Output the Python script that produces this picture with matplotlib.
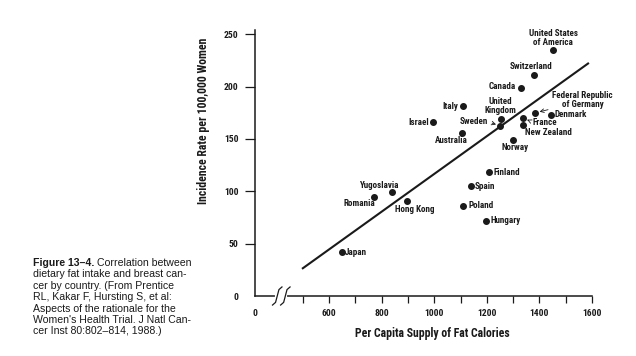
import matplotlib
matplotlib.use('Agg')
import matplotlib.pyplot as plt

# values
countries = ['United States\nof America', 'Switzerland', 'Canada', 'Italy',
             'United\nKingdom', 'Federal Republic\nof Germany', 'Denmark', 'France',
             'New Zealand', 'Israel', 'Sweden', 'Australia', 'Norway', 'Finland',
             'Spain', 'Yugoslavia', 'Romania', 'Hong Kong', 'Poland', 'Hungary', 'Japan']
fat_calories = [1453, 1381, 1329, 1110, 1253, 1385, 1443, 1339, 1337, 994, 1250,
                1107, 1301, 1210, 1140, 838, 770, 895, 1110, 1196, 650]
incidence = [235, 211, 199, 181, 169, 175, 173, 170, 163.5, 166, 162.5,
             156, 148.5, 118, 105, 99, 95, 91, 86, 72, 42]

fit_x = [500, 1585]
fit_y = [26.5, 222]

x_ticks = [318, 600, 800, 1000, 1200, 1400, 1600]
x_labels = ['0', '600', '800', '1000', '1200', '1400', '1600']
x_minor = [500, 700, 900, 1100, 1300, 1500]
y_ticks = [0, 50, 100, 150, 200, 250]

# label placement: (dx, dy) in pixels, ha, va, arrow relpos
label_style = {
    'United States\nof America': (0, 12, 'center', 'center', None),
    'Switzerland': (-3, 9, 'center', 'center', None),
    'Canada': (-5, 1, 'right', 'center', None),
    'Italy': (-5, 0, 'right', 'center', None),
    'United\nKingdom': (0, 13, 'center', 'center', None),
    'Federal Republic\nof Germany': (47, 13, 'center', 'center', (0.12, 0.1)),
    'Denmark': (4, 0, 'left', 'center', None),
    'France': (9, -5, 'left', 'center', (0, 0.6)),
    'New Zealand': (2, -8, 'left', 'center', None),
    'Israel': (-4, 0, 'right', 'center', None),
    'Sweden': (-12, 4, 'right', 'center', (1, 0.5)),
    'Australia': (-11, -8, 'center', 'center', None),
    'Norway': (2, -7, 'center', 'center', None),
    'Finland': (4, 0, 'left', 'center', None),
    'Spain': (4, 0, 'left', 'center', None),
    'Yugoslavia': (-12, 7, 'center', 'center', None),
    'Romania': (-14, -7, 'center', 'center', None),
    'Hong Kong': (8, -9, 'center', 'center', None),
    'Poland': (5, 0, 'left', 'center', None),
    'Hungary': (5, 0, 'left', 'center', None),
    'Japan': (3, 0, 'left', 'center', None),
}

narrow = ['Roboto Condensed', 'DejaVu Sans']
ink = '#1a1a1a'

fig = plt.figure(figsize=(6.36, 3.56), dpi=100)
ax = fig.add_axes([255 / 636, 1 - 296 / 356, 337 / 636, 266 / 356])

ax.scatter(fat_calories, incidence, s=16, color=ink, zorder=3)
ax.plot(fit_x, fit_y, color=ink, lw=1.5, zorder=2)

for name, x, y in zip(countries, fat_calories, incidence):
    dx, dy, ha, va, rel = label_style[name]
    kw = {}
    if rel is not None:
        kw['arrowprops'] = dict(arrowstyle='->', lw=0.6, color=ink,
                                relpos=rel, shrinkA=1, shrinkB=3)
    ax.annotate(name, (x, y), xytext=(dx, dy), textcoords='offset pixels',
                ha=ha, va=va, fontsize=6.5, family=narrow, fontweight='bold',
                color=ink, linespacing=1.0, multialignment='center', **kw)

ax.set_xlim(318, 1600)
ax.set_ylim(0, 254)
for s in ['top', 'right']:
    ax.spines[s].set_visible(False)
for s in ['left', 'bottom']:
    ax.spines[s].set_linewidth(1.1)
    ax.spines[s].set_color(ink)

ax.set_xticks(x_ticks)
ax.set_xticklabels(x_labels)
ax.set_xticks(x_minor, minor=True)
ax.set_yticks(y_ticks)
ax.tick_params(axis='x', which='both', length=5, width=0.9, color=ink, pad=4,
               labelsize=6.8)
ax.tick_params(axis='y', length=7, width=0.9, color=ink, pad=5, labelsize=6.8)
for lab in ax.get_xticklabels() + ax.get_yticklabels():
    lab.set_family(narrow)
    lab.set_fontweight('bold')
    lab.set_color(ink)
ax.xaxis.get_major_ticks()[0].tick1line.set_visible(False)
ax.yaxis.get_major_ticks()[0].tick1line.set_visible(False)

# axis break marks
tr = ax.transAxes
ax.plot([0.066, 0.09], [0, 0], color='white', lw=3, transform=tr,
        clip_on=False, zorder=5)
for x0 in [0.066, 0.09]:
    ax.plot([x0 - 0.014, x0 - 0.005, x0 + 0.005, x0 + 0.014],
            [-0.034, -0.024, 0.024, 0.034], color=ink, lw=0.9,
            transform=tr, clip_on=False, zorder=6)

ax.set_xlabel('Per Capita Supply of Fat Calories', family=narrow,
              fontweight='bold', fontsize=8.5, color=ink)
ax.set_ylabel('Incidence Rate per 100,000 Women', family=narrow,
              fontweight='bold', fontsize=8.5, color=ink)
ax.xaxis.set_label_coords(0.525, -0.115)
ax.yaxis.set_label_coords(-0.134, 0.66)

# caption
cap_font = ['Liberation Sans', 'DejaVu Sans']
lines = ['Correlation between',
         'dietary fat intake and breast can-',
         'cer by country. (From Prentice',
         'RL, Kakar F, Hursting S, et al:',
         'Aspects of the rationale for the',
         "Women's Health Trial. J Natl Can-",
         'cer Inst 80:802\u2013814, 1988.)']
x0, y0, step = 33 / 636, 1 - 263 / 356, 11.4 / 356
head = fig.text(x0, y0, 'Figure 13\u20134.', family=cap_font, fontweight='bold',
                fontsize=7.6, va='center', color=ink)
fig.canvas.draw()
bb = head.get_window_extent().transformed(fig.transFigure.inverted())
fig.text(bb.x1 + 3 / 636, y0, lines[0], family=cap_font, fontsize=7.6,
         va='center', color=ink)
for i, line in enumerate(lines[1:], start=1):
    fig.text(x0, y0 - i * step, line, family=cap_font, fontsize=7.6,
             va='center', color=ink)

fig.savefig('out.png', dpi=100)
